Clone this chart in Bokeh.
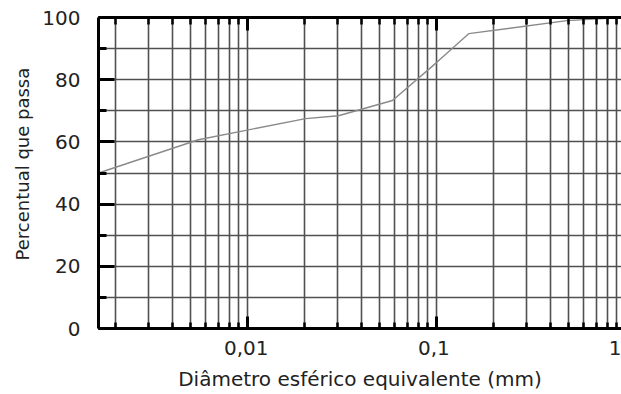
from bokeh.plotting import figure
from bokeh.models import (LogAxis, FixedTicker, SingleIntervalTicker, Title,
                          Range1d, LogScale)
from bokeh.embed import file_html
from bokeh.resources import INLINE

# Grain-size distribution curve (percent passing vs. equivalent spherical diameter)
diameter_mm = [0.00163, 0.0055, 0.0203, 0.0303, 0.0585, 0.1, 0.148, 0.49, 0.952]
percent_passing = [50.0, 60.7, 67.5, 68.4, 73.3, 85.5, 94.8, 99.0, 100.0]

x_major = [0.01, 0.1, 1.0]
x_minor = [m * d for d in (0.001, 0.01, 0.1) for m in range(2, 10)]
x_labels = {0.01: "0,01", 0.1: "0,1", 1.0: "1"}

y_title = "Percentual que passa"
x_title = "Diâmetro esférico equivalente (mm)"

FONT = "DejaVu Sans"
TEXT = "#222222"
GRID = "#505050"

p = figure(width=621, height=394, x_axis_type="log",
           x_range=(0.00163, 0.952), y_range=(0, 100),
           output_backend="svg", toolbar_location=None,
           min_border_left=98, min_border_right=0,
           min_border_top=17, min_border_bottom=66)
p.outline_line_color = None
p.background_fill_color = "white"
p.border_fill_color = "white"

tick_style = dict(axis_line_width=3, axis_line_color="black",
                  major_tick_out=0, minor_tick_out=0,
                  major_tick_line_width=3, minor_tick_line_width=2.5,
                  major_label_overrides={t: "" for t in x_major},
                  major_label_text_font_size="0px", major_label_standoff=0)

# bottom axis: line and inward ticks
xa = p.xaxis[0]
xa.ticker = FixedTicker(ticks=x_major, minor_ticks=x_minor)
xa.update(major_tick_in=12, minor_tick_in=6, **tick_style)

# bottom tick labels and title, on a scale running to 1 mm
p.extra_x_ranges = {"labels": Range1d(0.00163, 1.0)}
p.extra_x_scales = {"labels": LogScale()}
lab = LogAxis(x_range_name="labels",
              ticker=FixedTicker(ticks=x_major, minor_ticks=[]),
              major_label_overrides=x_labels,
              axis_line_color=None, major_tick_line_color=None,
              minor_tick_line_color=None,
              major_tick_in=0, major_tick_out=0,
              minor_tick_in=0, minor_tick_out=0,
              major_label_text_font=FONT, major_label_text_font_size="20px",
              major_label_text_color=TEXT, major_label_standoff=12,
              axis_label=x_title, axis_label_text_font=FONT,
              axis_label_text_font_size="20px",
              axis_label_text_font_style="normal",
              axis_label_text_color=TEXT, axis_label_standoff=9)
p.add_layout(lab, "below")

# top border with inward ticks
top = LogAxis(ticker=FixedTicker(ticks=x_major, minor_ticks=x_minor),
              major_tick_in=13, minor_tick_in=7, **tick_style)
p.add_layout(top, "above")

# left axis
ya = p.yaxis[0]
ya.ticker = SingleIntervalTicker(interval=20, num_minor_ticks=2)
ya.axis_line_width = 3
ya.axis_line_color = "black"
ya.major_tick_in = 16
ya.major_tick_out = 0
ya.minor_tick_in = 8
ya.minor_tick_out = 0
ya.major_tick_line_width = 3
ya.minor_tick_line_width = 3
ya.major_label_text_font = FONT
ya.major_label_text_font_size = "20px"
ya.major_label_text_color = TEXT
ya.major_label_standoff = 18

# y title, starting some way above the frame bottom
p.add_layout(Title(text=y_title, align="left", offset=68, standoff=14,
                   text_font=FONT, text_font_size="18px",
                   text_font_style="normal", text_color=TEXT), "left")

# grids
p.xgrid.ticker = FixedTicker(ticks=x_minor + x_major)
p.ygrid.ticker = SingleIntervalTicker(interval=10)
for g in (p.xgrid[0], p.ygrid[0]):
    g.grid_line_color = GRID
    g.grid_line_width = 1.6

p.line(diameter_mm, percent_passing, line_color="#8a8a8a", line_width=1.4)

open("out.html", "w").write(file_html(p, INLINE))
